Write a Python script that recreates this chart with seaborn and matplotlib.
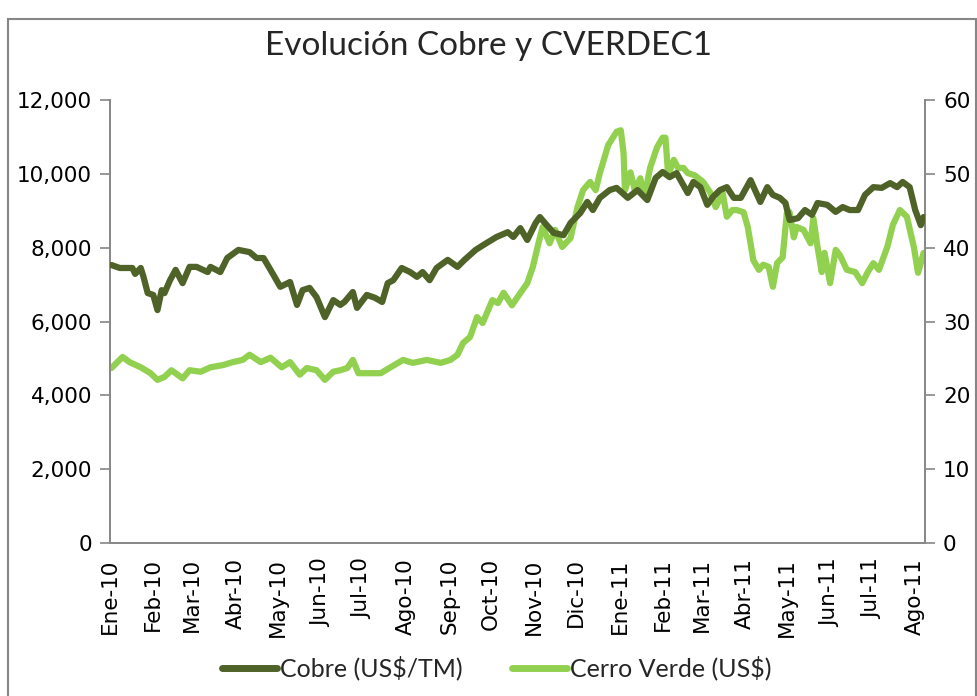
import pandas as pd
import matplotlib.pyplot as plt
import seaborn as sns

# Cobre (US$/TM)
cobre_dates = [
    "2010-01-02", "2010-01-08", "2010-01-17", "2010-01-19", "2010-01-23", "2010-01-25", "2010-01-28",
    "2010-02-01", "2010-02-04", "2010-02-07", "2010-02-09", "2010-02-13", "2010-02-17", "2010-02-22",
    "2010-02-27", "2010-03-04", "2010-03-12", "2010-03-14", "2010-03-21", "2010-03-26", "2010-04-03",
    "2010-04-11", "2010-04-16", "2010-04-21", "2010-04-26", "2010-05-03", "2010-05-10", "2010-05-15",
    "2010-05-19", "2010-05-24", "2010-05-29", "2010-06-04", "2010-06-10", "2010-06-15", "2010-06-18",
    "2010-06-24", "2010-06-27", "2010-07-04", "2010-07-10", "2010-07-15", "2010-07-19", "2010-07-23",
    "2010-07-29", "2010-08-04", "2010-08-09", "2010-08-13", "2010-08-18", "2010-08-23", "2010-08-31",
    "2010-09-07", "2010-09-12", "2010-09-20", "2010-09-28", "2010-10-05", "2010-10-13", "2010-10-17",
    "2010-10-22", "2010-10-27", "2010-11-02", "2010-11-05", "2010-11-10", "2010-11-15", "2010-11-22",
    "2010-11-27", "2010-12-04", "2010-12-09", "2010-12-13", "2010-12-18", "2010-12-25", "2010-12-30",
    "2011-01-07", "2011-01-14", "2011-01-21", "2011-01-27", "2011-02-01", "2011-02-06", "2011-02-11",
    "2011-02-19", "2011-02-23", "2011-02-28", "2011-03-05", "2011-03-09", "2011-03-14", "2011-03-19",
    "2011-03-24", "2011-03-29", "2011-04-05", "2011-04-12", "2011-04-17", "2011-04-21", "2011-04-26",
    "2011-04-30", "2011-05-03", "2011-05-09", "2011-05-14", "2011-05-19", "2011-05-23", "2011-05-30",
    "2011-06-05", "2011-06-10", "2011-06-15", "2011-06-21", "2011-06-26", "2011-07-02", "2011-07-08",
    "2011-07-14", "2011-07-19", "2011-07-23", "2011-07-28", "2011-08-01", "2011-08-05", "2011-08-07",
]
cobre = [
    7530, 7450, 7450, 7290, 7450, 7210, 6770, 6720, 6310, 6850, 6770, 7120, 7400, 7040,
    7480, 7480, 7340, 7480, 7340, 7720, 7940, 7880, 7720, 7720, 7400, 6940, 7070, 6450,
    6850, 6910, 6660, 6120, 6580, 6450, 6530, 6800, 6370, 6720, 6640, 6530, 7040, 7120,
    7450, 7340, 7210, 7340, 7120, 7450, 7670, 7480, 7670, 7940, 8130, 8290, 8420, 8290,
    8530, 8210, 8670, 8830, 8610, 8400, 8340, 8670, 8940, 9240, 9020, 9350, 9560, 9620,
    9350, 9560, 9290, 9890, 10050, 9910, 10020, 9480, 9780, 9640, 9160, 9370, 9560, 9640,
    9350, 9350, 9830, 9240, 9640, 9430, 9350, 9210, 8750, 8800, 9020, 8890, 9210, 9160,
    8970, 9100, 9020, 9020, 9430, 9640, 9620, 9750, 9640, 9780, 9640, 9020, 8610, 8830,
]

# Cerro Verde (US$)
cv_dates = [
    "2010-01-02", "2010-01-10", "2010-01-15", "2010-01-23", "2010-01-30", "2010-02-04", "2010-02-09",
    "2010-02-14", "2010-02-22", "2010-02-27", "2010-03-07", "2010-03-14", "2010-03-23", "2010-03-30",
    "2010-04-06", "2010-04-11", "2010-04-19", "2010-04-26", "2010-05-04", "2010-05-10", "2010-05-17",
    "2010-05-22", "2010-05-29", "2010-06-04", "2010-06-10", "2010-06-15", "2010-06-20", "2010-06-24",
    "2010-06-28", "2010-07-06", "2010-07-14", "2010-07-21", "2010-07-30", "2010-08-06", "2010-08-16",
    "2010-08-26", "2010-09-02", "2010-09-07", "2010-09-11", "2010-09-16", "2010-09-21", "2010-09-25",
    "2010-10-02", "2010-10-06", "2010-10-10", "2010-10-16", "2010-10-20", "2010-10-27", "2010-10-31",
    "2010-11-04", "2010-11-07", "2010-11-12", "2010-11-16", "2010-11-21", "2010-11-27", "2010-12-02",
    "2010-12-06", "2010-12-11", "2010-12-15", "2010-12-18", "2010-12-24", "2010-12-30", "2011-01-02",
    "2011-01-04", "2011-01-05", "2011-01-09", "2011-01-12", "2011-01-16", "2011-01-19", "2011-01-23",
    "2011-01-28", "2011-02-01", "2011-02-03", "2011-02-05", "2011-02-09", "2011-02-12", "2011-02-16",
    "2011-02-19", "2011-02-24", "2011-03-02", "2011-03-07", "2011-03-11", "2011-03-16", "2011-03-19",
    "2011-03-23", "2011-03-26", "2011-03-31", "2011-04-03", "2011-04-07", "2011-04-11", "2011-04-14",
    "2011-04-18", "2011-04-21", "2011-04-24", "2011-04-28", "2011-05-01", "2011-05-03", "2011-05-06",
    "2011-05-08", "2011-05-13", "2011-05-18", "2011-05-20", "2011-05-23", "2011-05-26", "2011-05-28",
    "2011-06-01", "2011-06-05", "2011-06-08", "2011-06-13", "2011-06-19", "2011-06-24", "2011-06-28",
    "2011-07-02", "2011-07-06", "2011-07-12", "2011-07-16", "2011-07-21", "2011-07-26", "2011-07-31",
    "2011-08-03", "2011-08-07",
]
cerro_verde = [
    23.7, 25.2, 24.5, 23.8, 23.0, 22.1, 22.5, 23.4, 22.3, 23.4, 23.2, 23.8, 24.1, 24.5,
    24.8, 25.5, 24.5, 25.1, 23.8, 24.5, 22.8, 23.7, 23.4, 22.1, 23.2, 23.4, 23.7, 24.8,
    23.0, 23.0, 23.0, 23.8, 24.8, 24.4, 24.8, 24.4, 24.8, 25.5, 27.1, 27.9, 30.6, 29.8,
    32.9, 32.5, 33.9, 32.2, 33.3, 35.2, 37.4, 40.6, 42.8, 40.6, 42.4, 40.1, 41.3, 45.5,
    47.8, 48.9, 47.8, 50.1, 53.9, 55.7, 55.9, 52.8, 47.8, 50.2, 47.8, 49.4, 46.9, 50.8,
    53.6, 54.9, 54.9, 49.8, 51.9, 50.8, 50.8, 50.1, 49.8, 48.9, 47.5, 45.5, 47.4, 44.2,
    45.1, 45.1, 44.8, 42.8, 38.3, 37.0, 37.7, 37.4, 34.7, 37.9, 38.7, 44.7, 44.8, 41.4,
    42.8, 42.4, 40.6, 44.0, 40.1, 36.7, 39.3, 35.2, 39.7, 39.0, 37.0, 36.7, 35.2, 36.7,
    37.9, 37.0, 40.1, 43.1, 45.1, 44.2, 40.1, 36.6, 39.3,
]

month_ticks = pd.date_range("2010-01-01", "2011-08-01", freq="MS")
month_labels = ["Ene-10", "Feb-10", "Mar-10", "Abr-10", "May-10", "Jun-10", "Jul-10", "Ago-10",
                "Sep-10", "Oct-10", "Nov-10", "Dic-10", "Ene-11", "Feb-11", "Mar-11", "Abr-11",
                "May-11", "Jun-11", "Jul-11", "Ago-11"]

df_cu = pd.DataFrame({"Fecha": pd.to_datetime(cobre_dates), "Valor": cobre})
df_cv = pd.DataFrame({"Fecha": pd.to_datetime(cv_dates), "Valor": cerro_verde})

sns.set_style("white")
plt.rcParams["font.family"] = ["DejaVu Sans"]

dark = "#4F6228"
light = "#92D050"
axis_gray = "#868686"

fig = plt.figure(figsize=(9.78, 6.96), dpi=100)
ax = fig.add_axes([0.1125, 0.2198, 0.8333, 0.6365])
ax2 = ax.twinx()

sns.lineplot(data=df_cu, x="Fecha", y="Valor", ax=ax, color=dark, linewidth=4.5, zorder=3)
sns.lineplot(data=df_cv, x="Fecha", y="Valor", ax=ax2, color=light, linewidth=4.5, zorder=3)
# copper line on top of the green one
ax.set_zorder(ax2.get_zorder() + 1)
ax.patch.set_visible(False)

ax.set_ylim(0, 12000)
ax2.set_ylim(0, 60)
ax.set_yticks(range(0, 12001, 2000))
ax.set_yticklabels([f"{v:,}" for v in range(0, 12001, 2000)])
ax2.set_yticks(range(0, 61, 10))
ax.set_xlim(pd.Timestamp("2010-01-01"), pd.Timestamp("2011-08-08"))
ax.set_xticks(month_ticks)
ax.set_xticklabels(month_labels, rotation=90)

for a in (ax, ax2):
    a.set_xlabel("")
    a.set_ylabel("")
    a.spines["top"].set_visible(False)
    for s in ("left", "right", "bottom"):
        a.spines[s].set_color(axis_gray)
        a.spines[s].set_linewidth(1.2)
    a.tick_params(axis="both", direction="out", length=7, width=1.2, color=axis_gray,
                  labelsize=15.5, labelcolor="black", pad=6)
    a.grid(False)
ax.tick_params(axis="x", pad=4)

fig.suptitle("Evolución Cobre y CVERDEC1", x=0.5, y=0.955, fontsize=24, family="Lato")

handles = [plt.Line2D([], [], color=dark, linewidth=5), plt.Line2D([], [], color=light, linewidth=5)]
fig.legend(handles, ["Cobre (US$/TM)", "Cerro Verde (US$)"], loc="center", bbox_to_anchor=(0.508, 0.04),
           ncol=2, frameon=False, prop={"family": "Lato", "size": 18}, handlelength=2.2,
           handletextpad=0.1, columnspacing=2.0)

# outer chart frame
fig.add_artist(plt.Rectangle((0.008, -0.01), 0.99, 0.982, transform=fig.transFigure,
                             fill=False, edgecolor=axis_gray, linewidth=1.5))

fig.savefig("out.png", dpi=100)
